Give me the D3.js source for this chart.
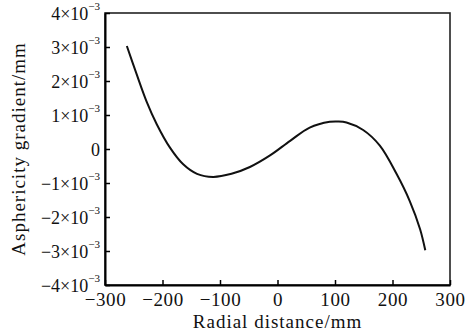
<!DOCTYPE html>
<html>
<head>
<meta charset="utf-8">
<script src="https://cdn.jsdelivr.net/npm/d3@7"></script>
<style>
    body { margin: 0; background: #fff; }
    text { font-family: "Liberation Serif", "DejaVu Serif", serif; fill: #111; }
</style>
</head>
<body>
<div class="chart"></div>
<script>
// gradient in units of 1e-3 mm
const radial = [-262, -245, -228, -210, -187, -164, -140, -112, -80, -48, -13, 22, 56, 91, 105, 120, 149, 178, 207, 230, 248, 257];
const gradient = [3.03, 2.20, 1.41, 0.73, 0.04, -0.45, -0.73, -0.82, -0.73, -0.53, -0.19, 0.24, 0.63, 0.80, 0.81, 0.78, 0.56, 0.10, -0.73, -1.53, -2.36, -2.98];
const xTicks = [-300, -200, -100, 0, 100, 200, 300];
const yTicks = [-4, -3, -2, -1, 0, 1, 2, 3, 4];

(function () {
    const width = 473, height = 335;
    const padding = { top: 13, right: 23, bottom: 50, left: 105 };
    const innerWidth = width - padding.left - padding.right;
    const innerHeight = height - padding.top - padding.bottom;

    const svg = d3.select(".chart").append("svg").attr("width", width).attr("height", height);
    const g = svg.append("g").attr("transform", `translate(${padding.left},${padding.top})`);

    const xScale = d3.scaleLinear().domain([-300, 300]).range([0, innerWidth]);
    const yScale = d3.scaleLinear().domain([-4, 4]).range([innerHeight, 0]);

    // frame
    g.append("rect").attr("width", innerWidth).attr("height", innerHeight)
        .attr("fill", "none").attr("stroke", "#222").attr("stroke-width", 1.6);

    const xAxis = g.append("g").attr("transform", `translate(0, ${innerHeight})`)
        .call(d3.axisBottom(xScale).tickValues(xTicks).tickSizeInner(-5).tickSizeOuter(0).tickPadding(6)
            .tickFormat(d => d < 0 ? "\u2212" + Math.abs(d) : d));
    xAxis.select(".domain").attr("stroke-width", 2);
    xAxis.selectAll("text").attr("font-size", 19).attr("letter-spacing", 0.6).attr("dy", "0.78em").attr("fill", "#111");
    xAxis.selectAll("line").attr("stroke-width", 1.5);

    const yAxis = g.append("g")
        .call(d3.axisLeft(yScale).tickValues(yTicks).tickSizeInner(-5).tickSizeOuter(0).tickPadding(5).tickFormat(""));
    yAxis.select(".domain").attr("stroke-width", 2);
    yAxis.selectAll("line").attr("stroke-width", 1.5);

    // y tick labels with superscript exponent
    yAxis.selectAll(".tick").each(function (d) {
        const t = d3.select(this).append("text")
            .attr("x", -5).attr("dy", "0.35em").attr("text-anchor", "end")
            .attr("font-size", 18).attr("fill", "#111");
        if (d === 0) {
            t.text("0");
        } else {
            t.append("tspan").text((d < 0 ? "\u2212" : "") + Math.abs(d) + "\u00d710");
            t.append("tspan").attr("font-size", 11).attr("dy", "-0.85em").text("\u22123");
        }
    });

    // axis titles
    svg.append("text").attr("x", padding.left + innerWidth / 2).attr("y", 328)
        .attr("text-anchor", "middle").attr("font-size", 19).attr("letter-spacing", 1)
        .text("Radial distance/mm");
    svg.append("text").attr("transform", `translate(25, ${padding.top + innerHeight / 2}) rotate(-90)`)
        .attr("text-anchor", "middle").attr("font-size", 19).attr("letter-spacing", 1)
        .text("Asphericity gradient/mm");

    // curve
    const line = d3.line()
        .x((d, i) => xScale(radial[i]))
        .y(d => yScale(d))
        .curve(d3.curveCatmullRom.alpha(0.5));
    g.append("path").datum(gradient).attr("d", line)
        .attr("fill", "none").attr("stroke", "#111").attr("stroke-width", 2);
})();
</script>
</body>
</html>
